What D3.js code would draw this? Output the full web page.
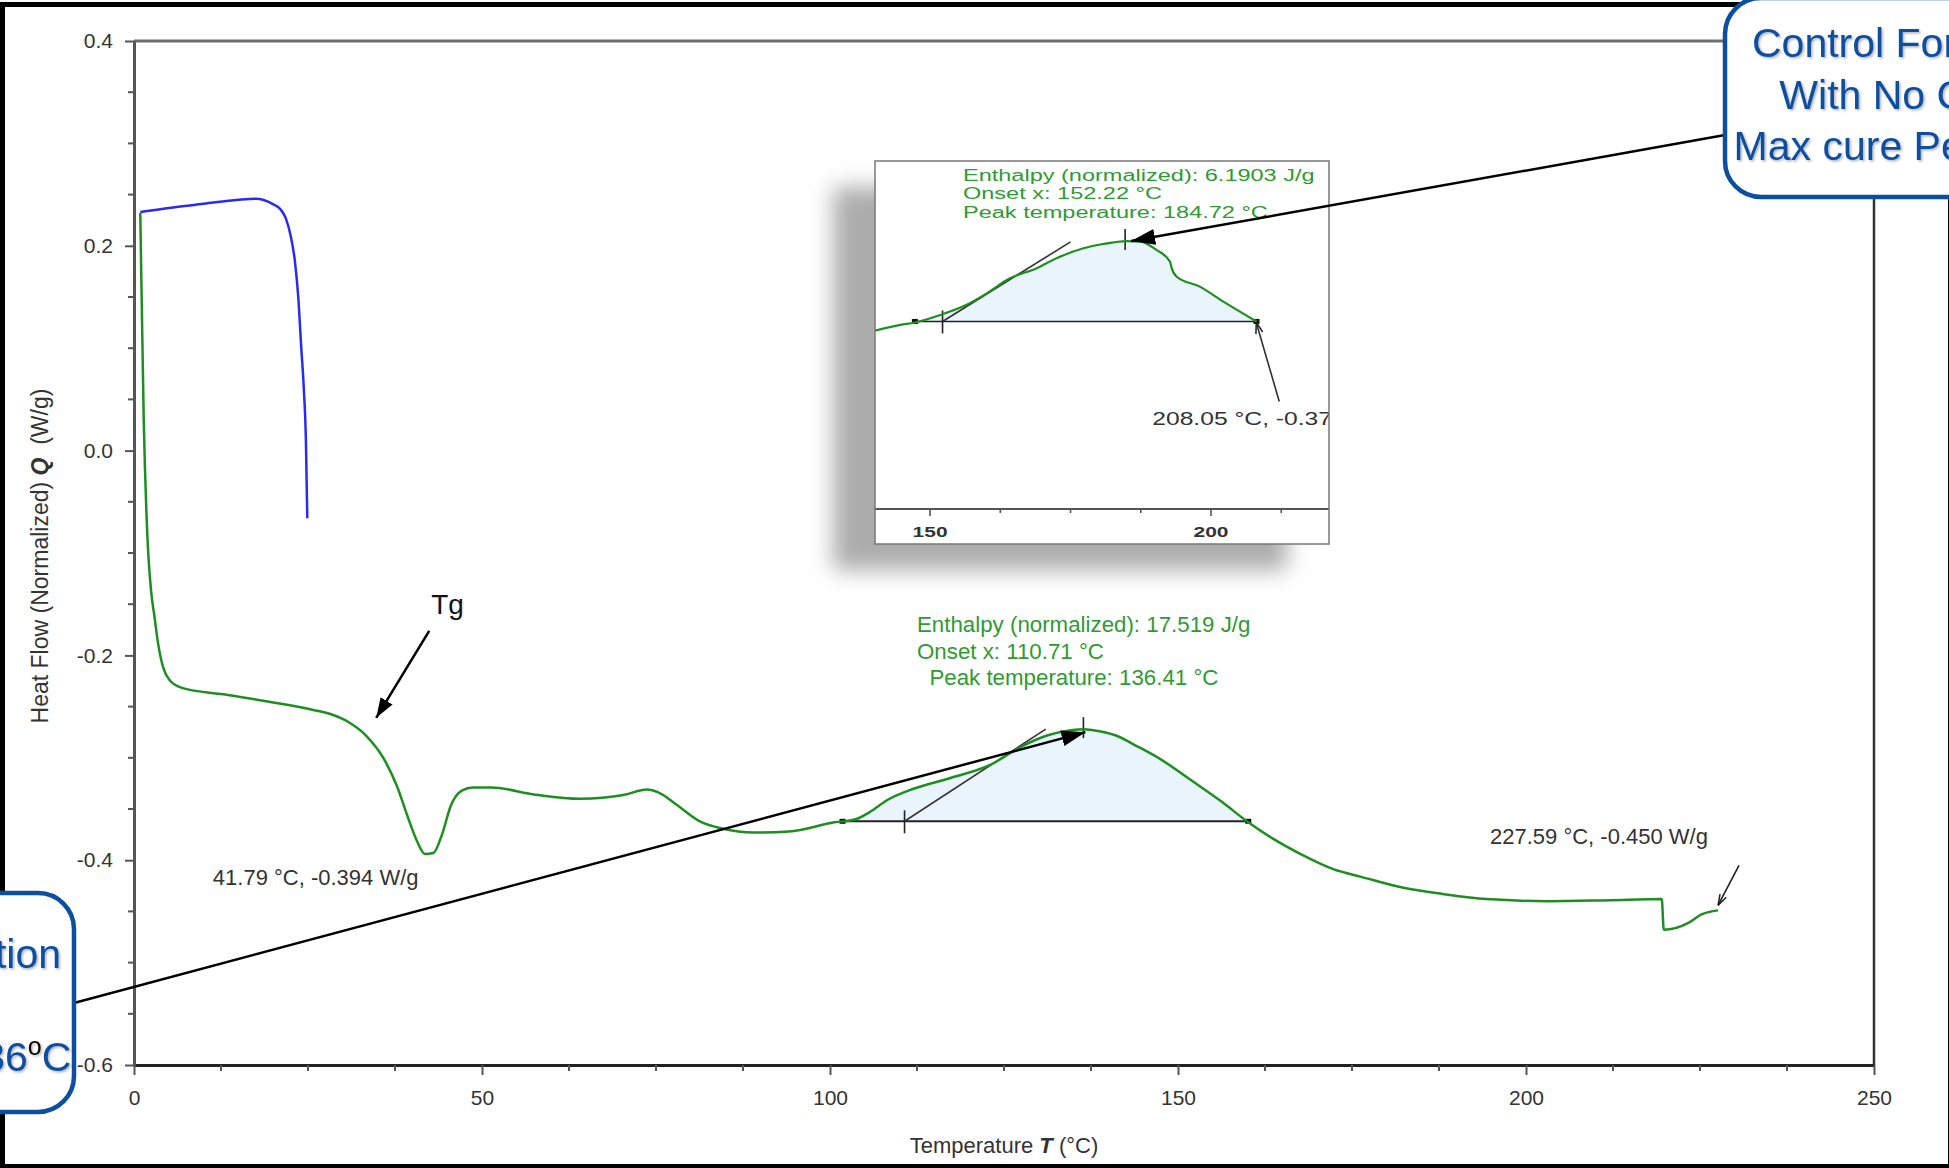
<!DOCTYPE html>
<html>
<head>
<meta charset="utf-8">
<script src="https://cdn.jsdelivr.net/npm/d3@7"></script>
<style>
  html, body { margin: 0; padding: 0; background: #fff; overflow: hidden; }
  svg { display: block; font-family: "Liberation Sans", Arial, sans-serif; }
</style>
</head>
<body>
<svg id="chart" width="1949" height="1168"></svg>
<script>
// DSC ramp of the catalysed sample (green), temperature in °C, heat flow in W/g
var heatTemp = [0.9, 1.1, 1.4, 1.9, 2.5, 2.9, 3.5, 4.2, 5.1, 7.0, 12.8, 19.2, 25.6, 28.5, 30.8, 33.3, 35.9, 37.8, 39.4, 40.7,
  41.8, 43.0, 44.3, 45.5, 47.1, 48.7, 51.3, 57.7, 64.1, 70.5, 73.7, 75.4, 78.0, 81.3, 84.5, 89.0, 94.1, 100.6, 103.7, 105.7,
  108.3, 112.1, 117.2, 123.0, 127.5, 131.3, 134.6, 136.4, 137.8, 141.0, 144.2, 147.4, 151.9, 156.3, 159.9, 163.4, 167.9, 172.4,
  176.2, 182.4, 188.0, 194.3, 203.2, 212.1, 219.5, 219.8, 223.4, 225.2, 227.6];
var heatFlow = [0.232, 0.15, 0.03, -0.08, -0.14, -0.16, -0.19, -0.212, -0.224, -0.232, -0.238, -0.245, -0.253, -0.258, -0.265, -0.278, -0.301, -0.328, -0.359, -0.382,
  -0.394, -0.393, -0.374, -0.347, -0.332, -0.329, -0.329, -0.336, -0.340, -0.336, -0.331, -0.334, -0.346, -0.362, -0.369, -0.373, -0.372, -0.363, -0.360, -0.353,
  -0.341, -0.330, -0.320, -0.307, -0.289, -0.278, -0.273, -0.272, -0.273, -0.278, -0.289, -0.301, -0.322, -0.343, -0.362, -0.378, -0.395, -0.409,
  -0.416, -0.427, -0.433, -0.438, -0.440, -0.439, -0.438, -0.468, -0.461, -0.453, -0.449];

// short initial segment (blue)
var coolTemp = [0.9, 5, 10, 15, 17.5, 19.9, 21.0, 21.8, 22.5, 23.1, 23.6, 24.0, 24.4, 24.7, 24.9];
var coolFlow = [0.233, 0.237, 0.241, 0.245, 0.246, 0.241, 0.236, 0.227, 0.21, 0.186, 0.15, 0.104, 0.06, 0.01, -0.066];

// control formulation, shown in the inset
var insetTemp = [140.2, 144.7, 147.3, 151.8, 156.5, 160.1, 164.2, 169.0, 172.5, 177.3, 180.8, 185.0, 187.4, 190.3, 192.7, 193.0, 193.9, 198.0, 202.2, 208.1];
var insetFlow = [-0.3734, -0.3713, -0.3704, -0.3676, -0.3638, -0.3595, -0.3539, -0.3501, -0.3464, -0.3427, -0.3411, -0.3400, -0.3402, -0.3433, -0.3477, -0.3501, -0.3533, -0.3570, -0.3626, -0.3700];

var xTicks = [0, 50, 100, 150, 200, 250];
var yTicks = [0.4, 0.2, 0.0, -0.2, -0.4, -0.6];
var insetTicks = [150, 200];

// peak integration results: [onset, peak, limit start, limit end, baseline, tangent end T, tangent end Q]
var mainPeak = [110.71, 136.41, 101.8, 160.1, -0.362, 131.0, -0.272];
var insetPeak = [152.22, 184.72, 147.3, 208.1, -0.370, 175.0, -0.3403];
var mainPeakText = ['Enthalpy (normalized): 17.519 J/g', 'Onset x: 110.71 °C', '  Peak temperature: 136.41 °C'];
var insetPeakText = ['Enthalpy (normalized): 6.1903 J/g', 'Onset x: 152.22 °C', 'Peak temperature: 184.72 °C'];
var tgPoint = [41.79, -0.394];
var endPoint = [227.59, -0.450];
var insetEndPoint = [208.05, -0.37];

var rightCallout = ['Control Formulation', 'With No Catalyst', 'Max cure Peak 185'];
var leftCallout = ['Catalyst Formulation', 'With Catalyst', 'Max cure Peak 136'];

var W = 1949, H = 1168;
var green = '#1f8e22', blue = '#2a2af2', navy = '#0c4f9e';
var svg = d3.select('#chart');
var defs = svg.append('defs');

var zip = function(a, b) { return a.map(function(v, i) { return [v, b[i]]; }); };

defs.append('filter').attr('id', 'blur').attr('x', '-30%').attr('y', '-30%').attr('width', '160%').attr('height', '160%')
  .append('feGaussianBlur').attr('stdDeviation', 11);
defs.append('filter').attr('id', 'tshadow')
  .append('feDropShadow').attr('dx', 1.5).attr('dy', 1.5).attr('stdDeviation', 1)
  .attr('flood-color', '#000').attr('flood-opacity', 0.3);

var marker = function(id, len, wid, filled, color) {
  defs.append('marker').attr('id', id)
    .attr('viewBox', '0 0 ' + len + ' ' + wid).attr('refX', len).attr('refY', wid / 2)
    .attr('markerWidth', len).attr('markerHeight', wid)
    .attr('markerUnits', 'userSpaceOnUse').attr('orient', 'auto')
    .append('path')
    .attr('d', filled ? 'M0,0L' + len + ',' + wid / 2 + 'L0,' + wid + 'Z' : 'M1,1L' + len + ',' + wid / 2 + 'L1,' + (wid - 1))
    .attr('fill', filled ? color : 'none').attr('stroke', filled ? 'none' : color).attr('stroke-width', 1.5);
};
marker('bigHead', 24, 16, true, '#000');
marker('tgHead', 20, 14, true, '#000');
marker('openHead', 12, 9, false, '#222');

svg.append('rect').attr('width', W).attr('height', H).attr('fill', '#fff');
// black slide frame
svg.append('rect').attr('x', 2.5).attr('y', 4.5).attr('width', 1948).attr('height', 1162)
  .attr('fill', 'none').attr('stroke', '#000').attr('stroke-width', 5);

var x = d3.scaleLinear().domain([0, 250]).range([134, 1874]);
var y = d3.scaleLinear().domain([-0.6, 0.4]).range([1065, 41]);

// ---- axes ----
svg.append('line').attr('x1', x(0)).attr('x2', x(250)).attr('y1', y(0.4)).attr('y2', y(0.4))
  .attr('stroke', '#6e6e6e').attr('stroke-width', 3);
svg.append('line').attr('x1', x(250)).attr('x2', x(250)).attr('y1', y(0.4)).attr('y2', y(-0.6))
  .attr('stroke', '#333').attr('stroke-width', 2.5);

var xAxis = svg.append('g').attr('transform', 'translate(0,' + y(-0.6) + ')')
  .call(d3.axisBottom(x).tickValues(xTicks).tickSize(10).tickSizeOuter(0).tickFormat(function(d) { return d; }));
xAxis.attr('font-family', null).attr('font-size', 21);
xAxis.select('.domain').attr('stroke', '#222').attr('stroke-width', 3);
xAxis.selectAll('.tick line').attr('stroke', '#555').attr('stroke-width', 2);
xAxis.selectAll('.tick text').attr('y', 40).attr('dy', null).attr('fill', '#333');
xAxis.selectAll('line.minor').data(d3.range(0, 250.1, 12.5).filter(function(d) { return d % 50; }))
  .enter().append('line').attr('class', 'minor')
  .attr('x1', x).attr('x2', x).attr('y1', 0).attr('y2', 6)
  .attr('stroke', '#555').attr('stroke-width', 2);

var yAxis = svg.append('g').attr('transform', 'translate(' + x(0) + ',0)')
  .call(d3.axisLeft(y).tickValues(yTicks).tickSize(9).tickPadding(12).tickSizeOuter(0)
    .tickFormat(function(d) { return d.toFixed(1); }));
yAxis.attr('font-family', null).attr('font-size', 21);
yAxis.select('.domain').attr('stroke', '#555').attr('stroke-width', 3);
yAxis.selectAll('.tick line').attr('stroke', '#555').attr('stroke-width', 2);
yAxis.selectAll('.tick text').attr('fill', '#333');
yAxis.selectAll('line.minor').data(d3.range(-12, 9).map(function(i) { return i * 0.05; }).filter(function(d) { return Math.abs(Math.round(d * 20)) % 4; }))
  .enter().append('line').attr('class', 'minor')
  .attr('y1', y).attr('y2', y).attr('x1', 0).attr('x2', -6)
  .attr('stroke', '#555').attr('stroke-width', 2);

var yTitle = svg.append('text').attr('transform', 'translate(48,556) rotate(-90)')
  .attr('text-anchor', 'middle').attr('font-size', 23).attr('fill', '#333');
yTitle.append('tspan').text('Heat Flow (Normalized)\u00a0');
yTitle.append('tspan').attr('font-weight', 'bold').attr('font-style', 'italic').text('Q');
yTitle.append('tspan').text('\u00a0\u00a0(W/g)');

var xTitle = svg.append('text').attr('x', 1004).attr('y', 1153)
  .attr('text-anchor', 'middle').attr('font-size', 22).attr('fill', '#333');
xTitle.append('tspan').text('Temperature\u00a0');
xTitle.append('tspan').attr('font-weight', 'bold').attr('font-style', 'italic').text('T');
xTitle.append('tspan').text('\u00a0(°C)');

// ---- peak integration (shading, baseline, tangent, markers) ----
var drawPeak = function(g, pts, peak, sx, sy, lw) {
  var inside = pts.filter(function(p) { return p[0] > peak[2] && p[0] < peak[3]; });
  var poly = [[peak[2], peak[4]]].concat(inside, [[peak[3], peak[4]]]);
  g.append('path').datum(poly)
    .attr('d', d3.area().x(function(d) { return sx(d[0]); }).y0(sy(peak[4])).y1(function(d) { return sy(d[1]); }).curve(d3.curveMonotoneX))
    .attr('fill', '#eaf4fd');
  g.append('line').attr('x1', sx(peak[2])).attr('x2', sx(peak[3])).attr('y1', sy(peak[4])).attr('y2', sy(peak[4]))
    .attr('stroke', '#222').attr('stroke-width', lw);
  g.append('line').attr('x1', sx(peak[0])).attr('x2', sx(peak[5])).attr('y1', sy(peak[4])).attr('y2', sy(peak[6]))
    .attr('stroke', '#333').attr('stroke-width', 1.6);
  g.append('line').attr('x1', sx(peak[0])).attr('x2', sx(peak[0])).attr('y1', sy(peak[4]) - 11).attr('y2', sy(peak[4]) + 12)
    .attr('stroke', '#222').attr('stroke-width', 1.6);
  var top = inside.reduce(function(a, b) { return b[1] > a[1] ? b : a; });
  g.append('line').attr('x1', sx(peak[1])).attr('x2', sx(peak[1])).attr('y1', sy(top[1]) - 12).attr('y2', sy(top[1]) + 9)
    .attr('stroke', '#222').attr('stroke-width', 1.6);
  [peak[2], peak[3]].forEach(function(t) {
    g.append('rect').attr('x', sx(t) - 3).attr('y', sy(peak[4]) - 2.5).attr('width', 6).attr('height', 5).attr('fill', '#111');
  });
  return top;
};

var heatPts = zip(heatTemp, heatFlow);
var mainG = svg.append('g');
var mainTop = drawPeak(mainG, heatPts, mainPeak, x, y, 2);

var line = d3.line().x(function(d) { return x(d[0]); }).y(function(d) { return y(d[1]); }).curve(d3.curveMonotoneX);
mainG.append('path').datum(zip(coolTemp, coolFlow)).attr('d', line)
  .attr('fill', 'none').attr('stroke', blue).attr('stroke-width', 2.5);
mainG.append('path').datum(heatPts).attr('d', line)
  .attr('fill', 'none').attr('stroke', green).attr('stroke-width', 2.5);

// ---- text annotations on the main plot ----
var peakLabel = svg.append('text').attr('font-size', 22.3).attr('fill', '#2f9a34').attr('xml:space', 'preserve');
mainPeakText.forEach(function(t, i) {
  peakLabel.append('tspan').attr('x', 917).attr('y', 632 + i * 26.5).text(t);
});

svg.append('text').attr('x', x(tgPoint[0]) - 212).attr('y', y(tgPoint[1]) + 31)
  .attr('font-size', 22).attr('fill', '#333').text(tgPoint[0] + ' °C, ' + tgPoint[1].toFixed(3) + ' W/g');
svg.append('text').attr('x', x(endPoint[0]) - 228).attr('y', y(endPoint[1]) - 67)
  .attr('font-size', 22).attr('fill', '#333').text(endPoint[0] + ' °C, ' + endPoint[1].toFixed(3) + ' W/g');
svg.append('line')
  .attr('x1', x(endPoint[0]) + 21).attr('y1', y(endPoint[1]) - 46)
  .attr('x2', x(endPoint[0])).attr('y2', y(endPoint[1]) - 6)
  .attr('stroke', '#222').attr('stroke-width', 1.6).attr('marker-end', 'url(#openHead)');

var tgTip = [x(34.8), y(-0.261)];
svg.append('text').attr('x', tgTip[0] + 55).attr('y', tgTip[1] - 104).attr('font-size', 28).attr('fill', '#111').text('Tg');
svg.append('line').attr('x1', tgTip[0] + 53).attr('y1', tgTip[1] - 87).attr('x2', tgTip[0]).attr('y2', tgTip[1])
  .attr('stroke', '#000').attr('stroke-width', 2.5).attr('marker-end', 'url(#tgHead)');

// ---- inset: control formulation peak ----
var box = { left: 875, right: 1329, top: 161, bottom: 544, axis: 509 };
var xi = d3.scaleLinear().domain([140.2, 221]).range([box.left, box.right]);
var yi = d3.scaleLinear().domain([-0.44, -0.31]).range([box.axis, 160.7]);

svg.append('rect').attr('x', box.left - 42).attr('y', box.top + 26)
  .attr('width', box.right - box.left).attr('height', box.bottom - box.top)
  .attr('fill', '#acacac').attr('filter', 'url(#blur)');
defs.append('clipPath').attr('id', 'insetClip').append('rect')
  .attr('x', box.left).attr('y', box.top).attr('width', box.right - box.left).attr('height', box.bottom - box.top);
svg.append('rect').attr('x', box.left).attr('y', box.top)
  .attr('width', box.right - box.left).attr('height', box.bottom - box.top)
  .attr('fill', '#fff');

var inset = svg.append('g').attr('clip-path', 'url(#insetClip)');
var insetPts = zip(insetTemp, insetFlow);
var insetTop = drawPeak(inset, insetPts, insetPeak, xi, yi, 1.6);
inset.append('path').datum(insetPts)
  .attr('d', d3.line().x(function(d) { return xi(d[0]); }).y(function(d) { return yi(d[1]); }).curve(d3.curveMonotoneX))
  .attr('fill', 'none').attr('stroke', green).attr('stroke-width', 2.2);

inset.append('line').attr('x1', box.left).attr('x2', box.right).attr('y1', box.axis).attr('y2', box.axis)
  .attr('stroke', '#555').attr('stroke-width', 2);
inset.selectAll('line.itick').data(d3.range(137.5, 222, 12.5)).enter().append('line').attr('class', 'itick')
  .attr('x1', xi).attr('x2', xi).attr('y1', box.axis)
  .attr('y2', function(d) { return box.axis + (d % 50 ? 4 : 7); })
  .attr('stroke', '#555').attr('stroke-width', 1.6);
inset.selectAll('text.itick').data(insetTicks).enter().append('text').attr('class', 'itick')
  .attr('transform', function(d) { return 'translate(' + xi(d) + ',537) scale(1.4,1)'; })
  .attr('text-anchor', 'middle').attr('font-size', 15).attr('font-weight', 'bold').attr('fill', '#333')
  .text(function(d) { return d; });

insetPeakText.forEach(function(t, i) {
  inset.append('text').attr('transform', 'translate(963,' + (180.5 + i * 18.8) + ') scale(1.47,1)')
    .attr('font-size', 16).attr('fill', '#2f9a34').text(t);
});
inset.append('text').attr('transform', 'translate(' + (xi(insetEndPoint[0]) - 104) + ',425) scale(1.37,1)')
  .attr('font-size', 18).attr('fill', '#333').text(insetEndPoint[0] + ' °C, ' + insetEndPoint[1].toFixed(3) + ' W/g');
inset.append('line')
  .attr('x1', xi(insetEndPoint[0]) + 23).attr('y1', yi(insetEndPoint[1]) + 80)
  .attr('x2', xi(insetEndPoint[0])).attr('y2', yi(insetEndPoint[1]) + 1)
  .attr('stroke', '#333').attr('stroke-width', 1.6).attr('marker-end', 'url(#openHead)');

svg.append('rect').attr('x', box.left).attr('y', box.top)
  .attr('width', box.right - box.left).attr('height', box.bottom - box.top)
  .attr('fill', 'none').attr('stroke', '#777').attr('stroke-width', 1.5);

// ---- callout arrows ----
svg.append('line').attr('x1', 74).attr('y1', 1003)
  .attr('x2', x(mainPeak[1]) + 2).attr('y2', y(mainTop[1]) + 3)
  .attr('stroke', '#000').attr('stroke-width', 2.5).attr('marker-end', 'url(#bigHead)');
svg.append('line').attr('x1', 1725).attr('y1', 135)
  .attr('x2', xi(insetPeak[1]) + 6).attr('y2', yi(insetTop[1]))
  .attr('stroke', '#000').attr('stroke-width', 2.5).attr('marker-end', 'url(#bigHead)');

// ---- callout boxes (run off the slide edges) ----
var callout = function(rect, lines, cx, y0) {
  var g = svg.append('g');
  g.append('rect').attr('x', rect[0]).attr('y', rect[1]).attr('width', rect[2]).attr('height', rect[3])
    .attr('rx', 36).attr('fill', '#fff').attr('stroke', navy).attr('stroke-width', 4.5);
  var t = g.append('text').attr('text-anchor', 'middle').attr('font-size', 41).attr('fill', navy)
    .attr('filter', 'url(#tshadow)');
  lines.forEach(function(s, i) {
    t.append('tspan').attr('x', cx).attr('y', y0 + i * 51.5).text(s);
    if (i === lines.length - 1) {
      t.append('tspan').attr('fill', '#000').attr('font-size', 25).attr('dy', -16).text('o');
      t.append('tspan').attr('dy', 16).text('C');
    }
  });
};
callout([1725, -2, 600, 199], rightCallout, 1932, 57);
callout([-420, 893, 494, 219], leftCallout, -127, 968);
</script>
</body>
</html>
